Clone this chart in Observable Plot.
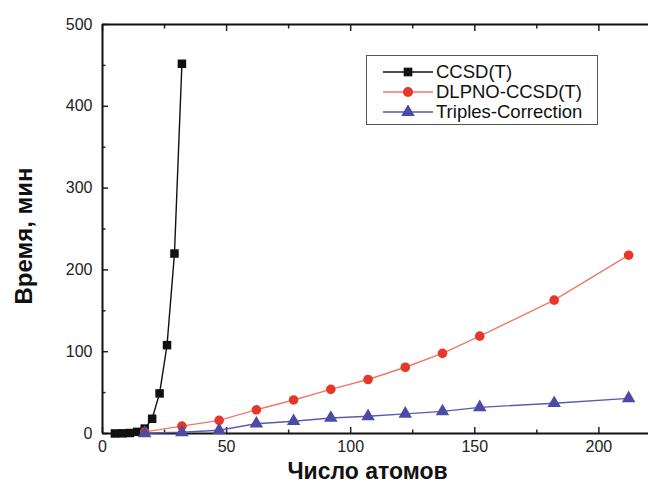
<!DOCTYPE html>
<html>
<head>
<meta charset="utf-8">
<script src="https://cdn.jsdelivr.net/npm/d3@7"></script>
<script src="https://cdn.jsdelivr.net/npm/@observablehq/plot@0.6"></script>
<style>
  html, body { margin: 0; padding: 0; background: #fff; }
  #wrap { position: relative; width: 648px; height: 489px; font-family: "Liberation Sans", Arial, sans-serif; }
  #legend { position: absolute; left: 366px; top: 55px; width: 230px; height: 68px; border: 1.5px solid #555; background: #fff; }
  .row { position: absolute; left: 0; height: 20px; display: flex; align-items: center; font-size: 18.5px; color: #111; }
  .row svg { margin-left: 16px; margin-right: 3px; }
</style>
</head>
<body>
<div id="wrap"></div>
<script>
// Data (number of atoms vs. time, minutes)
const ccsdAtoms = [5, 8, 11, 14, 17, 20, 23, 26, 29, 32];
const ccsdTime  = [0.05, 0.2, 0.6, 2, 6, 18, 49, 108, 220, 452];

const dlpnoAtoms = [17, 32, 47, 62, 77, 92, 107, 122, 137, 152, 182, 212];
const dlpnoTime  = [2, 9, 16, 29, 41, 54, 66, 81, 98, 119, 163, 218];
const triplesTime = [0.3, 1.5, 4, 12, 15, 19, 21, 24, 27, 32, 37, 43];

const seriesNames = ["CCSD(T)", "DLPNO-CCSD(T)", "Triples-Correction"];
const seriesColors = ["#111111", "#e8372a", "#4b4ba6"];
const lineColors = ["#111111", "#ec7a68", "#5a5ab0"];
const seriesSymbols = ["square", "circle", "triangle"];

const xMajor = [0, 50, 100, 150, 200];
const xMinor = [25, 75, 125, 175];
const yMajor = [0, 100, 200, 300, 400, 500];
const yMinor = [50, 150, 250, 350, 450];

const xTitle = "Число атомов";
const yTitle = "Время, мин";

const ccsd = ccsdAtoms.map((x, i) => ({x, y: ccsdTime[i]}));
const dlpno = dlpnoAtoms.map((x, i) => ({x, y: dlpnoTime[i]}));
const triples = dlpnoAtoms.map((x, i) => ({x, y: triplesTime[i]}));
const sets = [ccsd, dlpno, triples];

const marks = [];
// axes
marks.push(Plot.axisX(xMajor, {anchor: "bottom", tickSize: -6, tickPadding: 13, label: null, fontSize: 16, strokeWidth: 1.5}));
marks.push(Plot.axisX(xMinor, {anchor: "bottom", tickSize: -3.5, tickFormat: () => "", label: null, strokeWidth: 1.5}));
marks.push(Plot.axisX(xMajor, {anchor: "top", tickSize: -6, tickFormat: () => "", label: null, strokeWidth: 1.5}));
marks.push(Plot.axisX(xMinor, {anchor: "top", tickSize: -3.5, tickFormat: () => "", label: null, strokeWidth: 1.5}));
marks.push(Plot.axisY(yMajor, {anchor: "left", tickSize: -6, tickPadding: 16, label: null, fontSize: 16, strokeWidth: 1.5}));
marks.push(Plot.axisY(yMinor, {anchor: "left", tickSize: -3.5, tickFormat: () => "", label: null, strokeWidth: 1.5}));
// spines
marks.push(Plot.ruleX([0], {stroke: "#111", strokeWidth: 2}));
marks.push(Plot.ruleY([0, 500], {stroke: "#111", strokeWidth: 2}));
// series
sets.forEach((d, i) => {
  marks.push(Plot.line(d, {x: "x", y: "y", stroke: lineColors[i], strokeWidth: 1.4}));
  marks.push(Plot.dot(d, {x: "x", y: "y", symbol: () => seriesSymbols[i], fill: seriesColors[i], stroke: "none", r: i === 2 ? 5 : 4.8}));
});
// titles
marks.push(Plot.text([xTitle], {frameAnchor: "bottom", textAnchor: "middle", lineAnchor: "middle", dx: -8, dy: 38, fontSize: 23, fontWeight: "bold", fill: "#111"}));
marks.push(Plot.text([yTitle], {frameAnchor: "left", textAnchor: "middle", lineAnchor: "middle", rotate: -90, dx: -78, dy: 7, fontSize: 24, fontWeight: "bold", fill: "#111"}));

const chart = Plot.plot({
  width: 648, height: 489,
  marginLeft: 102, marginRight: 0, marginTop: 24, marginBottom: 56,
  x: {domain: [0, 220]},
  y: {domain: [0, 500]},
  style: {fontFamily: "'Liberation Sans', Arial, sans-serif", fontSize: "16px", color: "#222", background: "#fff", overflow: "visible"},
  marks
});
const wrap = document.getElementById("wrap");
wrap.appendChild(chart);

// legend
const legend = document.createElement("div");
legend.id = "legend";
seriesNames.forEach((name, i) => {
  const row = document.createElement("div");
  row.className = "row";
  row.style.top = (6 + i * 20) + "px";
  const sym = d3.symbol().type([d3.symbolSquare, d3.symbolCircle, d3.symbolTriangle][i]).size(i === 0 ? 75 : 80)();
  row.innerHTML = `<svg width="50" height="14"><line x1="0" x2="50" y1="7" y2="7" stroke="${lineColors[i]}" stroke-width="1.4"/><path transform="translate(25,7)" d="${sym}" fill="${seriesColors[i]}"/></svg><span>${name}</span>`;
  legend.appendChild(row);
});
wrap.appendChild(legend);
</script>
</body>
</html>
